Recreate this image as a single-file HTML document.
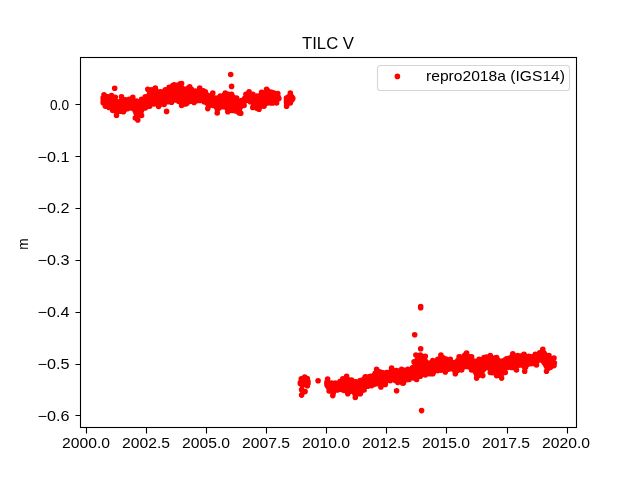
<!DOCTYPE html><html><head><meta charset="utf-8"><style>html,body{margin:0;padding:0;background:#fff;width:640px;height:480px;overflow:hidden}svg{display:block;will-change:transform}</style></head><body><svg width="640" height="480" viewBox="0 0 640 480" font-family='"Liberation Sans", sans-serif'><rect x="80.5" y="57.5" width="496" height="370" fill="none" stroke="#000" stroke-width="1.1"/><path d="M86.5 428V433.5M146.5 428V433.5M206.5 428V433.5M266.5 428V433.5M326.5 428V433.5M386.5 428V433.5M446.5 428V433.5M507.5 428V433.5M567.5 428V433.5M80 104.5H75.5M80 156.5H75.5M80 208.5H75.5M80 260.5H75.5M80 312.5H75.5M80 364.5H75.5M80 415.5H75.5" stroke="#000" stroke-width="1.1" fill="none"/><path d="M103.2 97.8h0M103.2 102.8h0M103.2 98.7h0M103.2 100.4h0M103.2 102.2h0M103.9 98.0h0M103.9 100.3h0M103.9 102.7h0M104.6 97.3h0M104.6 99.2h0M104.6 101.2h0M104.6 103.2h0M105.3 97.6h0M105.3 99.6h0M105.3 101.6h0M105.3 103.7h0M106.0 105.5h0M106.0 97.9h0M106.0 100.0h0M106.0 102.1h0M106.0 104.2h0M106.7 98.3h0M106.7 100.4h0M106.7 102.5h0M106.7 104.6h0M107.4 96.7h0M107.4 98.5h0M107.4 100.6h0M107.4 102.7h0M107.4 104.9h0M108.1 98.5h0M108.1 100.7h0M108.1 102.9h0M108.1 105.1h0M108.8 98.3h0M108.8 100.7h0M108.8 103.0h0M108.8 105.4h0M109.5 98.1h0M109.5 100.6h0M109.5 103.1h0M109.5 105.6h0M110.2 106.5h0M110.2 97.9h0M110.2 99.9h0M110.2 101.9h0M110.2 103.9h0M110.2 105.9h0M110.9 97.6h0M110.9 99.8h0M110.9 102.0h0M110.9 104.1h0M110.9 106.3h0M111.6 96.3h0M111.6 97.6h0M111.6 100.0h0M111.6 102.3h0M111.6 104.6h0M111.6 106.9h0M112.3 98.0h0M112.3 100.4h0M112.3 102.7h0M112.3 105.1h0M112.3 107.5h0M113.0 98.3h0M113.0 100.8h0M113.0 103.2h0M113.0 105.6h0M113.0 108.0h0M113.7 110.0h0M113.7 99.2h0M113.7 101.5h0M113.7 103.9h0M113.7 106.3h0M113.7 108.6h0M114.4 99.4h0M114.4 100.4h0M114.4 102.6h0M114.4 104.8h0M114.4 107.0h0M114.4 109.2h0M115.1 101.6h0M115.1 103.7h0M115.1 105.8h0M115.1 107.8h0M115.1 109.9h0M115.8 102.7h0M115.8 104.7h0M115.8 106.7h0M115.8 108.8h0M115.8 110.8h0M116.5 103.1h0M116.5 105.2h0M116.5 107.4h0M116.5 109.6h0M116.5 111.8h0M117.2 111.7h0M117.2 103.4h0M117.2 105.4h0M117.2 107.4h0M117.2 109.4h0M117.2 111.4h0M117.9 102.5h0M117.9 103.4h0M117.9 105.8h0M117.9 108.2h0M117.9 110.6h0M118.6 103.4h0M118.6 105.6h0M118.6 107.7h0M118.6 109.9h0M119.3 103.0h0M119.3 105.2h0M119.3 107.3h0M119.3 109.5h0M120.0 102.4h0M120.0 104.7h0M120.0 107.0h0M120.0 109.3h0M120.7 101.5h0M120.7 103.5h0M120.7 105.4h0M120.7 107.4h0M120.7 109.3h0M121.4 110.9h0M121.4 100.6h0M121.4 102.8h0M121.4 105.0h0M121.4 107.2h0M121.4 109.5h0M122.1 98.9h0M122.1 99.8h0M122.1 102.3h0M122.1 104.7h0M122.1 107.2h0M122.1 109.6h0M122.8 100.4h0M122.8 102.7h0M122.8 105.1h0M122.8 107.4h0M122.8 109.7h0M123.5 101.0h0M123.5 103.1h0M123.5 105.1h0M123.5 107.2h0M123.5 109.2h0M124.2 110.5h0M124.2 101.4h0M124.2 103.8h0M124.2 106.3h0M124.2 108.7h0M124.9 100.5h0M124.9 101.6h0M124.9 103.8h0M124.9 106.0h0M124.9 108.2h0M125.6 101.6h0M125.6 103.7h0M125.6 105.7h0M125.6 107.7h0M126.3 101.5h0M126.3 103.4h0M126.3 105.3h0M126.3 107.2h0M127.0 101.4h0M127.0 103.2h0M127.0 105.1h0M127.0 106.9h0M127.7 107.6h0M127.7 101.3h0M127.7 103.1h0M127.7 104.9h0M127.7 106.8h0M128.4 101.2h0M128.4 103.0h0M128.4 104.8h0M128.4 106.7h0M129.1 100.0h0M129.1 101.0h0M129.1 102.9h0M129.1 104.7h0M129.1 106.6h0M129.8 100.9h0M129.8 102.7h0M129.8 104.6h0M129.8 106.4h0M130.5 100.6h0M130.5 102.5h0M130.5 104.4h0M130.5 106.3h0M131.2 108.0h0M131.2 100.3h0M131.2 102.3h0M131.2 104.2h0M131.2 106.2h0M131.9 99.2h0M131.9 99.9h0M131.9 102.0h0M131.9 104.1h0M131.9 106.2h0M132.6 100.1h0M132.6 102.2h0M132.6 104.4h0M132.6 106.5h0M133.3 100.8h0M133.3 102.8h0M133.3 104.8h0M133.3 106.9h0M134.0 108.9h0M134.0 101.5h0M134.0 103.6h0M134.0 105.6h0M134.0 107.7h0M134.7 101.6h0M134.7 102.2h0M134.7 104.6h0M134.7 107.0h0M134.7 109.4h0M135.4 102.6h0M135.4 104.8h0M135.4 107.0h0M135.4 109.1h0M135.4 111.3h0M136.1 102.8h0M136.1 105.4h0M136.1 108.0h0M136.1 110.6h0M136.1 113.2h0M136.8 116.4h0M136.8 102.9h0M136.8 105.3h0M136.8 107.7h0M136.8 110.2h0M136.8 112.6h0M136.8 115.0h0M137.5 101.7h0M137.5 102.7h0M137.5 105.1h0M137.5 107.4h0M137.5 109.8h0M137.5 112.2h0M137.5 114.5h0M137.5 116.9h0M138.2 102.5h0M138.2 104.7h0M138.2 107.0h0M138.2 109.3h0M138.2 111.6h0M138.2 113.8h0M138.2 116.1h0M138.9 102.2h0M138.9 104.4h0M138.9 106.6h0M138.9 108.7h0M138.9 110.9h0M138.9 113.1h0M138.9 115.3h0M139.6 101.9h0M139.6 104.4h0M139.6 106.8h0M139.6 109.3h0M139.6 111.7h0M139.6 114.2h0M140.3 101.7h0M140.3 103.9h0M140.3 106.1h0M140.3 108.3h0M140.3 110.5h0M140.3 112.8h0M141.0 112.2h0M141.0 101.4h0M141.0 103.9h0M141.0 106.4h0M141.0 108.9h0M141.0 111.4h0M141.7 99.5h0M141.7 101.1h0M141.7 103.3h0M141.7 105.5h0M141.7 107.8h0M141.7 110.0h0M142.4 100.9h0M142.4 103.4h0M142.4 106.0h0M142.4 108.6h0M143.1 100.5h0M143.1 102.8h0M143.1 105.0h0M143.1 107.3h0M143.8 100.1h0M143.8 102.3h0M143.8 104.5h0M143.8 106.7h0M144.5 99.6h0M144.5 101.8h0M144.5 104.1h0M144.5 106.3h0M145.2 98.1h0M145.2 107.3h0M145.2 99.1h0M145.2 101.4h0M145.2 103.7h0M145.2 106.0h0M145.9 98.7h0M145.9 101.0h0M145.9 103.4h0M145.9 105.7h0M146.6 98.2h0M146.6 100.6h0M146.6 103.0h0M146.6 105.4h0M147.3 97.7h0M147.3 100.1h0M147.3 102.6h0M147.3 105.1h0M148.0 96.9h0M148.0 98.9h0M148.0 100.9h0M148.0 102.8h0M148.0 104.8h0M148.7 106.2h0M148.7 96.1h0M148.7 98.2h0M148.7 100.3h0M148.7 102.4h0M148.7 104.5h0M149.4 94.0h0M149.4 95.4h0M149.4 97.6h0M149.4 99.8h0M149.4 102.0h0M149.4 104.2h0M150.1 94.6h0M150.1 96.9h0M150.1 99.2h0M150.1 101.5h0M150.1 103.8h0M150.8 93.8h0M150.8 96.2h0M150.8 98.7h0M150.8 101.1h0M150.8 103.5h0M151.5 93.1h0M151.5 95.6h0M151.5 98.1h0M151.5 100.6h0M151.5 103.1h0M152.2 91.7h0M152.2 103.1h0M152.2 92.3h0M152.2 94.4h0M152.2 96.5h0M152.2 98.6h0M152.2 100.7h0M152.2 102.8h0M152.9 91.5h0M152.9 93.7h0M152.9 95.9h0M152.9 98.1h0M152.9 100.3h0M152.9 102.5h0M153.6 91.0h0M153.6 93.2h0M153.6 95.5h0M153.6 97.7h0M153.6 100.0h0M153.6 102.3h0M154.3 90.6h0M154.3 92.9h0M154.3 95.3h0M154.3 97.6h0M154.3 99.9h0M154.3 102.2h0M155.0 90.3h0M155.0 92.7h0M155.0 95.1h0M155.0 97.5h0M155.0 100.0h0M155.0 102.4h0M155.7 89.9h0M155.7 103.5h0M155.7 90.8h0M155.7 93.2h0M155.7 95.6h0M155.7 97.9h0M155.7 100.3h0M155.7 102.7h0M156.4 91.3h0M156.4 93.7h0M156.4 96.0h0M156.4 98.4h0M156.4 100.7h0M156.4 103.1h0M157.1 91.8h0M157.1 94.1h0M157.1 96.5h0M157.1 98.8h0M157.1 101.2h0M157.1 103.5h0M157.8 92.3h0M157.8 94.6h0M157.8 97.0h0M157.8 99.3h0M157.8 101.6h0M157.8 103.9h0M158.5 105.4h0M158.5 92.8h0M158.5 95.1h0M158.5 97.4h0M158.5 99.7h0M158.5 102.0h0M158.5 104.3h0M159.2 92.0h0M159.2 93.2h0M159.2 95.5h0M159.2 97.7h0M159.2 99.9h0M159.2 102.1h0M159.2 104.3h0M159.9 93.5h0M159.9 95.6h0M159.9 97.7h0M159.9 99.8h0M159.9 101.9h0M159.9 104.0h0M160.6 93.5h0M160.6 96.0h0M160.6 98.6h0M160.6 101.2h0M160.6 103.8h0M161.3 103.9h0M161.3 93.3h0M161.3 95.9h0M161.3 98.4h0M161.3 101.0h0M161.3 103.5h0M162.0 92.3h0M162.0 93.1h0M162.0 95.6h0M162.0 98.2h0M162.0 100.7h0M162.0 103.3h0M162.7 92.8h0M162.7 95.4h0M162.7 97.9h0M162.7 100.5h0M162.7 103.0h0M163.4 92.5h0M163.4 95.1h0M163.4 97.7h0M163.4 100.2h0M163.4 102.8h0M164.1 103.1h0M164.1 92.3h0M164.1 94.9h0M164.1 97.4h0M164.1 100.0h0M164.1 102.6h0M164.8 92.0h0M164.8 94.6h0M164.8 97.2h0M164.8 99.8h0M164.8 102.4h0M165.5 90.2h0M165.5 91.8h0M165.5 93.8h0M165.5 95.9h0M165.5 98.0h0M165.5 100.1h0M165.5 102.2h0M166.2 91.5h0M166.2 93.6h0M166.2 95.7h0M166.2 97.8h0M166.2 99.9h0M166.2 102.0h0M166.9 91.1h0M166.9 93.3h0M166.9 95.4h0M166.9 97.5h0M166.9 99.6h0M166.9 101.8h0M167.6 90.7h0M167.6 92.9h0M167.6 95.0h0M167.6 97.2h0M167.6 99.4h0M167.6 101.6h0M168.3 101.7h0M168.3 90.2h0M168.3 92.4h0M168.3 94.7h0M168.3 96.9h0M168.3 99.1h0M168.3 101.4h0M169.0 89.7h0M169.0 92.0h0M169.0 94.3h0M169.0 96.6h0M169.0 98.9h0M169.0 101.1h0M169.7 88.3h0M169.7 89.3h0M169.7 91.6h0M169.7 93.9h0M169.7 96.3h0M169.7 98.6h0M169.7 100.9h0M170.4 88.8h0M170.4 91.2h0M170.4 93.6h0M170.4 96.0h0M170.4 98.4h0M170.4 100.7h0M171.1 88.5h0M171.1 90.8h0M171.1 93.2h0M171.1 95.6h0M171.1 97.9h0M171.1 100.3h0M171.8 88.1h0M171.8 90.5h0M171.8 92.8h0M171.8 95.2h0M171.8 97.5h0M171.8 99.9h0M172.5 86.3h0M172.5 100.4h0M172.5 87.8h0M172.5 90.1h0M172.5 92.4h0M172.5 94.8h0M172.5 97.1h0M172.5 99.4h0M173.2 87.4h0M173.2 89.7h0M173.2 92.1h0M173.2 94.4h0M173.2 96.7h0M173.2 99.0h0M173.9 87.1h0M173.9 89.4h0M173.9 91.7h0M173.9 94.0h0M173.9 96.3h0M173.9 98.6h0M174.6 86.7h0M174.6 89.0h0M174.6 91.4h0M174.6 93.7h0M174.6 96.0h0M174.6 98.3h0M175.3 98.7h0M175.3 86.5h0M175.3 88.8h0M175.3 91.2h0M175.3 93.5h0M175.3 95.9h0M175.3 98.2h0M176.0 86.4h0M176.0 88.8h0M176.0 91.2h0M176.0 93.6h0M176.0 96.0h0M176.0 98.4h0M176.7 85.3h0M176.7 86.2h0M176.7 88.7h0M176.7 91.2h0M176.7 93.6h0M176.7 96.1h0M176.7 98.6h0M177.4 86.1h0M177.4 88.7h0M177.4 91.3h0M177.4 93.9h0M177.4 96.5h0M177.4 99.1h0M178.1 86.0h0M178.1 88.3h0M178.1 90.6h0M178.1 92.9h0M178.1 95.2h0M178.1 97.4h0M178.1 99.7h0M178.8 101.5h0M178.8 85.9h0M178.8 88.3h0M178.8 90.7h0M178.8 93.1h0M178.8 95.5h0M178.8 97.9h0M178.8 100.4h0M179.5 85.8h0M179.5 88.3h0M179.5 90.8h0M179.5 93.4h0M179.5 95.9h0M179.5 98.4h0M179.5 101.0h0M180.2 83.9h0M180.2 85.7h0M180.2 87.9h0M180.2 90.2h0M180.2 92.5h0M180.2 94.8h0M180.2 97.0h0M180.2 99.3h0M180.2 101.6h0M180.9 86.7h0M180.9 89.2h0M180.9 91.8h0M180.9 94.4h0M180.9 97.0h0M180.9 99.6h0M180.9 102.2h0M181.6 103.9h0M181.6 87.7h0M181.6 90.2h0M181.6 92.7h0M181.6 95.3h0M181.6 97.8h0M181.6 100.3h0M181.6 102.8h0M182.3 88.7h0M182.3 91.2h0M182.3 93.6h0M182.3 96.0h0M182.3 98.4h0M182.3 100.8h0M182.3 103.2h0M183.0 89.8h0M183.0 92.0h0M183.0 94.2h0M183.0 96.4h0M183.0 98.6h0M183.0 100.8h0M183.0 103.0h0M183.7 90.5h0M183.7 92.9h0M183.7 95.4h0M183.7 97.8h0M183.7 100.2h0M183.7 102.7h0M184.4 89.4h0M184.4 90.8h0M184.4 93.1h0M184.4 95.4h0M184.4 97.8h0M184.4 100.1h0M184.4 102.4h0M185.1 103.9h0M185.1 91.0h0M185.1 93.2h0M185.1 95.5h0M185.1 97.7h0M185.1 99.9h0M185.1 102.2h0M185.8 90.9h0M185.8 93.1h0M185.8 95.3h0M185.8 97.5h0M185.8 99.7h0M185.8 101.9h0M186.5 90.7h0M186.5 92.9h0M186.5 95.1h0M186.5 97.4h0M186.5 99.6h0M186.5 101.8h0M187.2 90.3h0M187.2 92.6h0M187.2 94.9h0M187.2 97.1h0M187.2 99.4h0M187.2 101.7h0M187.9 89.9h0M187.9 92.3h0M187.9 94.6h0M187.9 96.9h0M187.9 99.2h0M187.9 101.5h0M188.6 87.8h0M188.6 101.8h0M188.6 89.5h0M188.6 91.9h0M188.6 94.3h0M188.6 96.7h0M188.6 99.1h0M188.6 101.4h0M189.3 89.1h0M189.3 91.6h0M189.3 94.0h0M189.3 96.5h0M189.3 98.9h0M189.3 101.3h0M190.0 89.5h0M190.0 91.8h0M190.0 94.2h0M190.0 96.5h0M190.0 98.9h0M190.0 101.2h0M190.7 90.0h0M190.7 92.3h0M190.7 94.5h0M190.7 96.7h0M190.7 98.9h0M190.7 101.1h0M191.4 89.4h0M191.4 90.6h0M191.4 93.2h0M191.4 95.8h0M191.4 98.4h0M191.4 101.0h0M192.1 91.1h0M192.1 93.6h0M192.1 96.0h0M192.1 98.4h0M192.1 100.9h0M192.8 101.3h0M192.8 91.7h0M192.8 94.0h0M192.8 96.2h0M192.8 98.5h0M192.8 100.8h0M193.5 92.2h0M193.5 94.3h0M193.5 96.4h0M193.5 98.5h0M193.5 100.6h0M194.2 92.6h0M194.2 95.2h0M194.2 97.8h0M194.2 100.3h0M194.9 92.0h0M194.9 92.9h0M194.9 95.3h0M194.9 97.7h0M194.9 100.1h0M195.6 92.8h0M195.6 95.2h0M195.6 97.5h0M195.6 99.8h0M196.3 100.8h0M196.3 92.7h0M196.3 95.0h0M196.3 97.3h0M196.3 99.5h0M197.0 92.3h0M197.0 94.6h0M197.0 97.0h0M197.0 99.3h0M197.7 91.8h0M197.7 94.2h0M197.7 96.6h0M197.7 99.0h0M198.4 91.3h0M198.4 93.8h0M198.4 96.3h0M198.4 98.8h0M199.1 90.2h0M199.1 90.8h0M199.1 92.8h0M199.1 94.8h0M199.1 96.7h0M199.1 98.7h0M199.8 100.4h0M199.8 90.4h0M199.8 92.5h0M199.8 94.6h0M199.8 96.7h0M199.8 98.8h0M200.5 90.9h0M200.5 92.9h0M200.5 94.9h0M200.5 97.0h0M200.5 99.0h0M201.2 91.3h0M201.2 93.3h0M201.2 95.2h0M201.2 97.2h0M201.2 99.2h0M201.9 91.8h0M201.9 94.3h0M201.9 96.8h0M201.9 99.3h0M202.6 92.3h0M202.6 94.7h0M202.6 97.1h0M202.6 99.5h0M203.3 90.9h0M203.3 92.7h0M203.3 95.0h0M203.3 97.4h0M203.3 99.7h0M204.0 100.4h0M204.0 93.4h0M204.0 95.5h0M204.0 97.7h0M204.0 99.9h0M204.7 94.1h0M204.7 96.0h0M204.7 98.0h0M204.7 100.0h0M205.4 94.8h0M205.4 96.6h0M205.4 98.5h0M205.4 100.3h0M206.1 95.5h0M206.1 97.3h0M206.1 99.1h0M206.1 100.9h0M206.8 103.1h0M206.8 96.2h0M206.8 98.1h0M206.8 100.0h0M206.8 101.9h0M207.5 95.1h0M207.5 96.9h0M207.5 99.0h0M207.5 101.1h0M207.5 103.2h0M208.2 97.4h0M208.2 99.8h0M208.2 102.1h0M208.2 104.5h0M208.9 97.8h0M208.9 99.7h0M208.9 101.7h0M208.9 103.7h0M208.9 105.6h0M209.6 97.8h0M209.6 100.3h0M209.6 102.7h0M209.6 105.2h0M210.3 97.8h0M210.3 100.1h0M210.3 102.4h0M210.3 104.8h0M211.0 96.9h0M211.0 105.0h0M211.0 97.5h0M211.0 99.8h0M211.0 102.1h0M211.0 104.3h0M211.7 97.1h0M211.7 99.4h0M211.7 101.7h0M211.7 103.9h0M212.4 97.4h0M212.4 99.5h0M212.4 101.6h0M212.4 103.7h0M213.1 98.7h0M213.1 101.3h0M213.1 103.8h0M213.8 105.4h0M213.8 99.3h0M213.8 101.6h0M213.8 103.9h0M214.5 98.2h0M214.5 99.7h0M214.5 102.0h0M214.5 104.4h0M215.2 99.8h0M215.2 101.5h0M215.2 103.3h0M215.2 105.1h0M215.9 99.7h0M215.9 101.9h0M215.9 104.1h0M215.9 106.3h0M216.6 99.5h0M216.6 101.5h0M216.6 103.5h0M216.6 105.5h0M216.6 107.4h0M217.3 109.0h0M217.3 99.2h0M217.3 101.6h0M217.3 103.9h0M217.3 106.3h0M217.3 108.6h0M218.0 97.7h0M218.0 99.0h0M218.0 101.5h0M218.0 103.9h0M218.0 106.4h0M218.0 108.9h0M218.7 98.7h0M218.7 101.1h0M218.7 103.4h0M218.7 105.8h0M218.7 108.1h0M219.4 98.4h0M219.4 100.7h0M219.4 102.9h0M219.4 105.1h0M219.4 107.4h0M220.1 98.2h0M220.1 100.3h0M220.1 102.4h0M220.1 104.5h0M220.1 106.6h0M220.8 97.5h0M220.8 106.1h0M220.8 97.9h0M220.8 99.9h0M220.8 101.8h0M220.8 103.8h0M220.8 105.8h0M221.5 97.6h0M221.5 100.2h0M221.5 102.8h0M221.5 105.3h0M222.2 97.2h0M222.2 99.2h0M222.2 101.1h0M222.2 103.1h0M222.2 105.0h0M222.9 96.8h0M222.9 98.8h0M222.9 100.9h0M222.9 103.0h0M222.9 105.0h0M223.6 96.3h0M223.6 98.5h0M223.6 100.7h0M223.6 102.9h0M223.6 105.1h0M224.3 94.9h0M224.3 106.1h0M224.3 95.9h0M224.3 98.3h0M224.3 100.7h0M224.3 103.0h0M224.3 105.4h0M225.0 95.5h0M225.0 97.6h0M225.0 99.7h0M225.0 101.8h0M225.0 103.9h0M225.0 106.0h0M225.7 95.0h0M225.7 97.4h0M225.7 99.7h0M225.7 102.0h0M225.7 104.4h0M225.7 106.7h0M226.4 95.1h0M226.4 97.5h0M226.4 100.0h0M226.4 102.5h0M226.4 104.9h0M226.4 107.4h0M227.1 95.2h0M227.1 97.8h0M227.1 100.4h0M227.1 102.9h0M227.1 105.5h0M227.1 108.1h0M227.8 110.0h0M227.8 95.3h0M227.8 97.6h0M227.8 99.8h0M227.8 102.1h0M227.8 104.3h0M227.8 106.5h0M227.8 108.8h0M228.5 94.3h0M228.5 95.5h0M228.5 97.8h0M228.5 100.1h0M228.5 102.5h0M228.5 104.8h0M228.5 107.2h0M228.5 109.5h0M229.2 95.6h0M229.2 97.9h0M229.2 100.2h0M229.2 102.6h0M229.2 104.9h0M229.2 107.2h0M229.2 109.5h0M229.9 95.7h0M229.9 98.0h0M229.9 100.3h0M229.9 102.5h0M229.9 104.8h0M229.9 107.1h0M229.9 109.3h0M230.6 96.0h0M230.6 98.2h0M230.6 100.4h0M230.6 102.6h0M230.6 104.8h0M230.6 107.0h0M230.6 109.2h0M231.3 96.5h0M231.3 99.0h0M231.3 101.5h0M231.3 104.0h0M231.3 106.5h0M231.3 109.0h0M232.0 110.5h0M232.0 97.1h0M232.0 99.4h0M232.0 101.8h0M232.0 104.1h0M232.0 106.5h0M232.0 108.8h0M232.7 96.6h0M232.7 97.6h0M232.7 99.8h0M232.7 102.0h0M232.7 104.3h0M232.7 106.5h0M232.7 108.7h0M233.4 98.1h0M233.4 100.2h0M233.4 102.4h0M233.4 104.5h0M233.4 106.6h0M233.4 108.8h0M234.1 98.7h0M234.1 101.2h0M234.1 103.8h0M234.1 106.4h0M234.1 109.0h0M234.8 99.2h0M234.8 101.7h0M234.8 104.2h0M234.8 106.8h0M234.8 109.3h0M235.5 111.0h0M235.5 99.6h0M235.5 102.1h0M235.5 104.6h0M235.5 107.1h0M235.5 109.6h0M236.2 100.0h0M236.2 102.4h0M236.2 104.9h0M236.2 107.4h0M236.2 109.8h0M236.9 99.5h0M236.9 100.3h0M236.9 102.8h0M236.9 105.2h0M236.9 107.7h0M236.9 110.1h0M237.6 100.7h0M237.6 103.1h0M237.6 105.5h0M237.6 108.0h0M237.6 110.4h0M238.3 101.0h0M238.3 103.3h0M238.3 105.5h0M238.3 107.8h0M238.3 110.1h0M239.0 101.4h0M239.0 103.9h0M239.0 106.5h0M239.0 109.0h0M239.7 108.8h0M239.7 101.7h0M239.7 103.8h0M239.7 105.9h0M239.7 108.0h0M240.4 102.0h0M240.4 104.5h0M240.4 106.9h0M241.1 100.9h0M241.1 102.2h0M241.1 104.1h0M241.1 105.9h0M241.8 102.2h0M241.8 104.2h0M242.5 102.1h0M242.5 102.1h0M243.2 101.7h0M243.2 101.7h0M243.9 101.2h0M243.9 101.0h0M243.9 101.0h0M244.6 98.5h0M244.6 100.0h0M244.6 100.0h0M245.3 99.0h0M245.3 99.3h0M246.0 98.0h0M246.0 99.4h0M246.7 100.0h0M246.7 97.0h0M246.7 99.5h0M247.4 95.9h0M247.4 97.7h0M247.4 99.5h0M248.1 95.0h0M248.1 97.3h0M248.1 99.6h0M248.8 93.6h0M248.8 94.5h0M248.8 96.2h0M248.8 98.0h0M248.8 99.7h0M249.5 100.7h0M249.5 94.4h0M249.5 96.2h0M249.5 98.0h0M249.5 99.8h0M250.2 94.8h0M250.2 97.4h0M250.2 99.9h0M250.9 95.3h0M250.9 97.7h0M250.9 100.0h0M251.6 95.7h0M251.6 98.0h0M251.6 100.3h0M252.3 94.7h0M252.3 96.1h0M252.3 98.4h0M252.3 100.8h0M253.0 96.4h0M253.0 98.3h0M253.0 100.1h0M253.0 101.9h0M253.7 104.6h0M253.7 96.8h0M253.7 99.0h0M253.7 101.3h0M253.7 103.5h0M254.4 97.1h0M254.4 99.1h0M254.4 101.1h0M254.4 103.1h0M254.4 105.1h0M255.1 97.5h0M255.1 99.7h0M255.1 101.8h0M255.1 104.0h0M255.1 106.2h0M255.8 97.8h0M255.8 99.9h0M255.8 102.1h0M255.8 104.2h0M255.8 106.4h0M256.5 97.0h0M256.5 97.9h0M256.5 100.0h0M256.5 102.2h0M256.5 104.4h0M256.5 106.6h0M257.2 108.5h0M257.2 97.8h0M257.2 100.0h0M257.2 102.3h0M257.2 104.5h0M257.2 106.8h0M257.9 97.5h0M257.9 99.9h0M257.9 102.3h0M257.9 104.6h0M257.9 107.0h0M258.6 97.1h0M258.6 99.6h0M258.6 102.1h0M258.6 104.7h0M258.6 107.2h0M259.3 95.9h0M259.3 96.5h0M259.3 99.1h0M259.3 101.7h0M259.3 104.2h0M259.3 106.8h0M260.0 96.0h0M260.0 98.6h0M260.0 101.2h0M260.0 103.8h0M260.0 106.3h0M260.7 106.6h0M260.7 95.5h0M260.7 97.6h0M260.7 99.7h0M260.7 101.7h0M260.7 103.8h0M260.7 105.9h0M261.4 95.0h0M261.4 97.1h0M261.4 99.2h0M261.4 101.3h0M261.4 103.4h0M261.4 105.5h0M262.1 94.4h0M262.1 96.6h0M262.1 98.7h0M262.1 100.8h0M262.1 102.9h0M262.1 105.0h0M262.8 93.9h0M262.8 96.0h0M262.8 98.2h0M262.8 100.3h0M262.8 102.5h0M262.8 104.6h0M263.5 93.0h0M263.5 104.7h0M263.5 93.4h0M263.5 95.6h0M263.5 97.8h0M263.5 99.9h0M263.5 102.1h0M263.5 104.2h0M264.2 93.0h0M264.2 95.2h0M264.2 97.4h0M264.2 99.5h0M264.2 101.7h0M264.2 103.9h0M264.9 92.5h0M264.9 94.7h0M264.9 96.9h0M264.9 99.2h0M264.9 101.4h0M264.9 103.6h0M265.6 92.1h0M265.6 94.3h0M265.6 96.5h0M265.6 98.8h0M265.6 101.0h0M265.6 103.2h0M266.3 91.7h0M266.3 93.9h0M266.3 96.1h0M266.3 98.4h0M266.3 100.6h0M266.3 102.9h0M267.0 102.9h0M267.0 91.8h0M267.0 93.9h0M267.0 96.1h0M267.0 98.2h0M267.0 100.4h0M267.0 102.5h0M267.7 90.5h0M267.7 92.2h0M267.7 94.7h0M267.7 97.2h0M267.7 99.7h0M267.7 102.2h0M268.4 92.7h0M268.4 95.0h0M268.4 97.2h0M268.4 99.5h0M268.4 101.8h0M269.1 93.1h0M269.1 95.2h0M269.1 97.3h0M269.1 99.4h0M269.1 101.5h0M269.8 102.7h0M269.8 93.6h0M269.8 96.1h0M269.8 98.7h0M269.8 101.3h0M270.5 92.4h0M270.5 93.9h0M270.5 96.4h0M270.5 98.8h0M270.5 101.2h0M271.2 94.1h0M271.2 96.5h0M271.2 98.8h0M271.2 101.2h0M271.9 94.3h0M271.9 96.6h0M271.9 98.9h0M271.9 101.2h0M272.6 102.9h0M272.6 94.4h0M272.6 96.7h0M272.6 98.9h0M272.6 101.2h0M273.3 94.6h0M273.3 96.8h0M273.3 99.0h0M273.3 101.2h0M274.0 93.1h0M274.0 94.7h0M274.0 96.9h0M274.0 99.0h0M274.0 101.2h0M274.7 94.8h0M274.7 97.0h0M274.7 99.1h0M274.7 101.2h0M275.4 95.0h0M275.4 97.0h0M275.4 99.0h0M275.4 101.0h0M276.1 102.0h0M276.1 95.1h0M276.1 97.7h0M276.1 100.2h0M276.8 95.8h0M276.8 97.6h0M276.8 99.4h0M277.5 96.6h0M277.5 98.6h0M278.2 97.1h0M278.2 97.5h0M278.2 97.7h0M278.9 98.6h0M278.9 98.6h0M104.0 94.8h0M107.8 96.7h0M111.5 95.5h0M115.3 97.3h0M117.8 101.7h0M121.5 96.7h0M125.3 99.8h0M129.1 99.2h0M132.8 97.3h0M136.6 101.1h0M141.6 99.2h0M145.3 96.7h0M151.6 89.8h0M155.3 88.0h0M160.3 91.7h0M165.3 89.8h0M169.1 87.3h0M172.8 85.5h0M174.1 84.8h0M181.6 83.6h0M185.3 89.2h0M189.7 86.7h0M195.3 91.1h0M199.7 88.0h0M205.3 91.7h0M209.7 96.1h0M212.8 93.0h0M215.3 98.0h0M220.3 96.1h0M225.3 93.0h0M231.6 94.2h0M236.6 98.0h0M241.6 100.5h0M245.9 94.2h0M249.1 91.7h0M252.8 94.2h0M256.6 96.1h0M261.6 92.3h0M266.6 89.2h0M271.6 92.3h0M277.8 93.6h0M105.3 106.1h0M109.0 107.4h0M112.8 110.5h0M116.5 115.5h0M120.3 111.1h0M123.4 111.8h0M127.8 108.6h0M131.6 108.0h0M135.3 118.0h0M137.8 119.9h0M141.6 115.5h0M145.3 108.0h0M149.8 106.1h0M154.1 104.0h0M158.6 106.5h0M164.1 104.5h0M171.6 102.3h0M175.3 100.0h0M181.6 105.5h0M186.6 103.6h0M194.1 102.4h0M199.1 100.5h0M204.1 101.8h0M207.8 108.6h0M212.8 105.5h0M217.2 113.0h0M222.8 106.8h0M227.8 111.8h0M232.8 110.5h0M239.1 113.0h0M244.1 105.5h0M245.3 101.1h0M250.3 101.8h0M252.8 107.4h0M259.1 109.2h0M264.1 106.1h0M270.3 103.0h0M276.6 103.0h0M286.5 98.1h0M286.5 102.5h0M286.5 98.7h0M286.5 100.1h0M286.5 101.6h0M287.2 97.8h0M287.2 100.0h0M287.2 102.2h0M287.9 97.3h0M287.9 99.6h0M287.9 101.9h0M288.6 96.7h0M288.6 99.2h0M288.6 101.7h0M289.3 102.2h0M289.3 96.2h0M289.3 98.8h0M289.3 101.3h0M290.0 95.7h0M290.0 98.2h0M290.0 100.8h0M290.7 95.4h0M290.7 96.0h0M290.7 98.1h0M290.7 100.3h0M291.4 96.5h0M291.4 98.2h0M291.4 99.8h0M292.1 99.8h0M292.1 97.3h0M292.1 99.3h0M292.8 98.4h0M292.8 98.5h0M290.3 93.0h0M286.6 104.5h0M290.3 103.0h0M300.3 382.8h0M300.3 383.5h0M300.3 383.6h0M300.3 383.6h0M301.0 381.9h0M301.0 382.7h0M301.7 381.3h0M301.7 383.1h0M302.4 380.7h0M302.4 382.0h0M302.4 383.4h0M303.1 380.1h0M303.1 381.9h0M303.1 383.7h0M303.8 379.1h0M303.8 384.3h0M303.8 379.7h0M303.8 381.7h0M303.8 383.8h0M304.5 379.3h0M304.5 381.6h0M304.5 383.8h0M305.2 379.6h0M305.2 381.7h0M305.2 383.9h0M305.9 380.0h0M305.9 382.0h0M305.9 383.9h0M306.6 380.5h0M306.6 382.2h0M306.6 384.0h0M307.3 379.4h0M307.3 381.0h0M307.3 383.5h0M308.0 383.5h0M308.0 381.5h0M308.0 383.1h0M301.3 378.9h0M304.7 377.0h0M307.3 378.6h0M302.3 385.5h0M307.3 385.8h0M326.9 382.4h0M326.9 384.8h0M326.9 383.4h0M326.9 384.0h0M327.6 382.0h0M327.6 384.0h0M327.6 386.1h0M328.3 382.8h0M328.3 384.9h0M328.3 387.1h0M329.0 383.5h0M329.0 385.7h0M329.0 387.9h0M329.7 389.4h0M329.7 384.2h0M329.7 386.4h0M329.7 388.6h0M330.4 384.1h0M330.4 384.6h0M330.4 387.0h0M330.4 389.3h0M331.1 384.8h0M331.1 386.6h0M331.1 388.3h0M331.1 390.1h0M331.8 384.9h0M331.8 386.9h0M331.8 388.9h0M331.8 390.9h0M332.5 384.9h0M332.5 387.2h0M332.5 389.5h0M332.5 391.8h0M333.2 393.3h0M333.2 384.9h0M333.2 387.3h0M333.2 389.6h0M333.2 392.0h0M333.9 384.9h0M333.9 387.0h0M333.9 389.1h0M333.9 391.2h0M334.6 384.4h0M334.6 384.9h0M334.6 386.7h0M334.6 388.6h0M334.6 390.4h0M335.3 384.9h0M335.3 387.3h0M335.3 389.6h0M336.0 384.8h0M336.0 386.8h0M336.0 388.9h0M336.7 384.6h0M336.7 386.5h0M336.7 388.5h0M337.4 389.8h0M337.4 384.3h0M337.4 386.3h0M337.4 388.2h0M338.1 384.0h0M338.1 386.1h0M338.1 388.2h0M338.8 382.9h0M338.8 383.8h0M338.8 386.0h0M338.8 388.2h0M339.5 383.5h0M339.5 385.8h0M339.5 388.2h0M340.2 389.2h0M340.2 383.2h0M340.2 385.7h0M340.2 388.2h0M340.9 383.0h0M340.9 384.7h0M340.9 386.5h0M340.9 388.2h0M341.6 381.4h0M341.6 382.7h0M341.6 384.5h0M341.6 386.4h0M341.6 388.2h0M342.3 382.2h0M342.3 384.2h0M342.3 386.2h0M342.3 388.2h0M343.0 381.5h0M343.0 383.7h0M343.0 386.0h0M343.0 388.2h0M343.7 380.8h0M343.7 383.3h0M343.7 385.8h0M343.7 388.4h0M344.4 378.9h0M344.4 390.4h0M344.4 380.1h0M344.4 382.2h0M344.4 384.4h0M344.4 386.5h0M344.4 388.7h0M345.1 379.5h0M345.1 382.0h0M345.1 384.4h0M345.1 386.8h0M345.1 389.2h0M345.8 379.1h0M345.8 381.2h0M345.8 383.3h0M345.8 385.5h0M345.8 387.6h0M345.8 389.8h0M346.5 378.7h0M346.5 381.0h0M346.5 383.3h0M346.5 385.6h0M346.5 388.0h0M346.5 390.3h0M347.2 379.2h0M347.2 381.5h0M347.2 383.8h0M347.2 386.2h0M347.2 388.5h0M347.2 390.8h0M347.9 392.9h0M347.9 379.7h0M347.9 382.1h0M347.9 384.4h0M347.9 386.7h0M347.9 389.0h0M347.9 391.3h0M348.6 379.7h0M348.6 380.3h0M348.6 382.4h0M348.6 384.5h0M348.6 386.6h0M348.6 388.7h0M348.6 390.9h0M349.3 380.8h0M349.3 383.2h0M349.3 385.6h0M349.3 388.0h0M349.3 390.4h0M350.0 381.3h0M350.0 383.5h0M350.0 385.6h0M350.0 387.8h0M350.0 389.9h0M350.7 381.7h0M350.7 383.7h0M350.7 385.7h0M350.7 387.6h0M350.7 389.6h0M351.4 382.0h0M351.4 384.5h0M351.4 387.0h0M351.4 389.5h0M352.1 381.2h0M352.1 391.0h0M352.1 382.4h0M352.1 384.8h0M352.1 387.2h0M352.1 389.5h0M352.8 382.7h0M352.8 385.1h0M352.8 387.4h0M352.8 389.8h0M353.5 383.1h0M353.5 385.5h0M353.5 387.9h0M353.5 390.3h0M354.2 383.4h0M354.2 385.4h0M354.2 387.3h0M354.2 389.3h0M354.2 391.2h0M354.9 393.7h0M354.9 383.6h0M354.9 385.8h0M354.9 388.0h0M354.9 390.2h0M354.9 392.4h0M355.6 381.9h0M355.6 383.6h0M355.6 386.1h0M355.6 388.6h0M355.6 391.1h0M355.6 393.6h0M356.3 383.5h0M356.3 385.6h0M356.3 387.8h0M356.3 389.9h0M356.3 392.1h0M356.3 394.3h0M357.0 383.3h0M357.0 385.4h0M357.0 387.5h0M357.0 389.6h0M357.0 391.6h0M357.0 393.7h0M357.7 383.1h0M357.7 385.7h0M357.7 388.2h0M357.7 390.7h0M357.7 393.2h0M358.4 393.6h0M358.4 383.0h0M358.4 385.4h0M358.4 387.8h0M358.4 390.2h0M358.4 392.7h0M359.1 382.8h0M359.1 385.1h0M359.1 387.4h0M359.1 389.7h0M359.1 392.0h0M359.8 380.9h0M359.8 382.6h0M359.8 384.8h0M359.8 387.0h0M359.8 389.1h0M359.8 391.3h0M360.5 382.4h0M360.5 384.5h0M360.5 386.5h0M360.5 388.6h0M360.5 390.6h0M361.2 391.5h0M361.2 382.2h0M361.2 384.8h0M361.2 387.3h0M361.2 389.9h0M361.9 381.9h0M361.9 384.3h0M361.9 386.8h0M361.9 389.2h0M362.6 381.4h0M362.6 383.7h0M362.6 386.1h0M362.6 388.5h0M363.3 380.8h0M363.3 383.2h0M363.3 385.5h0M363.3 387.8h0M364.0 378.7h0M364.0 387.5h0M364.0 380.3h0M364.0 382.6h0M364.0 384.8h0M364.0 387.1h0M364.7 379.8h0M364.7 382.0h0M364.7 384.2h0M364.7 386.4h0M365.4 379.3h0M365.4 381.4h0M365.4 383.6h0M365.4 385.7h0M366.1 378.7h0M366.1 380.8h0M366.1 383.0h0M366.1 385.1h0M366.8 377.1h0M366.8 385.5h0M366.8 378.5h0M366.8 380.5h0M366.8 382.6h0M366.8 384.6h0M367.5 378.4h0M367.5 380.4h0M367.5 382.4h0M367.5 384.5h0M368.2 378.3h0M368.2 380.3h0M368.2 382.3h0M368.2 384.3h0M368.9 378.2h0M368.9 380.2h0M368.9 382.2h0M368.9 384.2h0M369.6 385.2h0M369.6 378.1h0M369.6 380.1h0M369.6 382.1h0M369.6 384.1h0M370.3 378.0h0M370.3 380.0h0M370.3 382.0h0M370.3 384.0h0M371.0 376.7h0M371.0 377.9h0M371.0 379.9h0M371.0 381.8h0M371.0 383.8h0M371.7 377.6h0M371.7 379.6h0M371.7 381.6h0M371.7 383.6h0M372.4 377.0h0M372.4 379.1h0M372.4 381.2h0M372.4 383.3h0M373.1 376.3h0M373.1 378.5h0M373.1 380.8h0M373.1 383.0h0M373.8 384.4h0M373.8 375.5h0M373.8 377.9h0M373.8 380.4h0M373.8 382.8h0M374.5 374.7h0M374.5 377.3h0M374.5 379.9h0M374.5 382.5h0M375.2 373.3h0M375.2 374.0h0M375.2 376.1h0M375.2 378.1h0M375.2 380.2h0M375.2 382.3h0M375.9 373.2h0M375.9 375.4h0M375.9 377.6h0M375.9 379.8h0M375.9 382.0h0M376.6 372.4h0M376.6 374.8h0M376.6 377.2h0M376.6 379.6h0M376.6 382.0h0M377.3 372.1h0M377.3 374.6h0M377.3 377.1h0M377.3 379.6h0M377.3 382.1h0M378.0 383.2h0M378.0 372.6h0M378.0 375.0h0M378.0 377.5h0M378.0 379.9h0M378.0 382.4h0M378.7 373.0h0M378.7 375.5h0M378.7 377.9h0M378.7 380.4h0M378.7 382.9h0M379.4 371.7h0M379.4 373.5h0M379.4 375.9h0M379.4 378.4h0M379.4 380.9h0M379.4 383.4h0M380.1 373.9h0M380.1 376.4h0M380.1 378.9h0M380.1 381.4h0M380.1 383.9h0M380.8 374.2h0M380.8 376.7h0M380.8 379.3h0M380.8 381.8h0M380.8 384.4h0M381.5 385.0h0M381.5 374.3h0M381.5 376.8h0M381.5 379.3h0M381.5 381.8h0M381.5 384.3h0M382.2 374.3h0M382.2 376.7h0M382.2 379.1h0M382.2 381.5h0M382.2 383.9h0M382.9 372.9h0M382.9 374.3h0M382.9 376.6h0M382.9 378.9h0M382.9 381.2h0M382.9 383.5h0M383.6 374.3h0M383.6 376.5h0M383.6 378.7h0M383.6 380.9h0M383.6 383.1h0M384.3 383.3h0M384.3 374.3h0M384.3 376.4h0M384.3 378.5h0M384.3 380.6h0M384.3 382.6h0M385.0 374.3h0M385.0 376.3h0M385.0 378.2h0M385.0 380.2h0M385.0 382.1h0M385.7 374.3h0M385.7 376.7h0M385.7 379.2h0M385.7 381.6h0M386.4 372.7h0M386.4 374.3h0M386.4 376.6h0M386.4 378.8h0M386.4 381.1h0M387.1 374.2h0M387.1 376.3h0M387.1 378.4h0M387.1 380.5h0M387.8 374.0h0M387.8 376.0h0M387.8 378.0h0M387.8 380.0h0M388.5 380.1h0M388.5 373.5h0M388.5 375.5h0M388.5 377.5h0M388.5 379.5h0M389.2 372.2h0M389.2 372.9h0M389.2 375.0h0M389.2 377.0h0M389.2 379.1h0M389.9 372.3h0M389.9 374.5h0M389.9 376.6h0M389.9 378.8h0M390.6 371.7h0M390.6 374.1h0M390.6 376.4h0M390.6 378.8h0M391.3 371.0h0M391.3 373.0h0M391.3 375.0h0M391.3 377.0h0M391.3 379.0h0M392.0 379.5h0M392.0 370.5h0M392.0 372.6h0M392.0 374.8h0M392.0 377.0h0M392.0 379.1h0M392.7 370.8h0M392.7 372.9h0M392.7 375.1h0M392.7 377.2h0M392.7 379.3h0M393.4 370.5h0M393.4 371.2h0M393.4 373.2h0M393.4 375.3h0M393.4 377.4h0M393.4 379.5h0M394.1 371.5h0M394.1 373.5h0M394.1 375.6h0M394.1 377.6h0M394.1 379.7h0M394.8 371.9h0M394.8 373.9h0M394.8 375.9h0M394.8 377.9h0M394.8 379.9h0M395.5 372.2h0M395.5 374.2h0M395.5 376.1h0M395.5 378.1h0M395.5 380.0h0M396.2 381.0h0M396.2 372.4h0M396.2 374.3h0M396.2 376.3h0M396.2 378.2h0M396.2 380.2h0M396.9 371.7h0M396.9 372.4h0M396.9 374.4h0M396.9 376.4h0M396.9 378.4h0M396.9 380.4h0M397.6 372.2h0M397.6 374.3h0M397.6 376.4h0M397.6 378.5h0M397.6 380.6h0M398.3 372.0h0M398.3 374.2h0M398.3 376.4h0M398.3 378.6h0M398.3 380.7h0M399.0 381.5h0M399.0 371.9h0M399.0 374.1h0M399.0 376.3h0M399.0 378.6h0M399.0 380.8h0M399.7 371.7h0M399.7 374.0h0M399.7 376.3h0M399.7 378.6h0M399.7 380.9h0M400.4 371.5h0M400.4 373.9h0M400.4 376.2h0M400.4 378.6h0M400.4 381.0h0M401.1 370.1h0M401.1 371.3h0M401.1 373.8h0M401.1 376.2h0M401.1 378.6h0M401.1 381.0h0M401.8 371.2h0M401.8 373.7h0M401.8 376.1h0M401.8 378.6h0M401.8 381.1h0M402.5 382.9h0M402.5 371.2h0M402.5 373.7h0M402.5 376.2h0M402.5 378.7h0M402.5 381.2h0M403.2 371.2h0M403.2 373.6h0M403.2 376.0h0M403.2 378.5h0M403.2 380.9h0M403.9 371.2h0M403.9 373.5h0M403.9 375.8h0M403.9 378.1h0M403.9 380.4h0M404.6 370.2h0M404.6 371.2h0M404.6 373.4h0M404.6 375.6h0M404.6 377.8h0M404.6 380.0h0M405.3 371.2h0M405.3 373.2h0M405.3 375.3h0M405.3 377.4h0M405.3 379.5h0M406.0 371.2h0M406.0 373.1h0M406.0 375.1h0M406.0 377.1h0M406.0 379.1h0M406.7 379.6h0M406.7 371.2h0M406.7 373.6h0M406.7 376.1h0M406.7 378.6h0M407.4 371.2h0M407.4 373.5h0M407.4 375.8h0M407.4 378.1h0M408.1 369.9h0M408.1 371.1h0M408.1 373.3h0M408.1 375.6h0M408.1 377.8h0M408.8 371.0h0M408.8 373.2h0M408.8 375.4h0M408.8 377.6h0M409.5 370.7h0M409.5 373.0h0M409.5 375.3h0M409.5 377.6h0M410.2 370.4h0M410.2 372.8h0M410.2 375.2h0M410.2 377.6h0M410.9 378.0h0M410.9 370.2h0M410.9 372.7h0M410.9 375.1h0M410.9 377.6h0M411.6 369.9h0M411.6 372.5h0M411.6 375.0h0M411.6 377.6h0M412.3 368.1h0M412.3 369.7h0M412.3 371.7h0M412.3 373.6h0M412.3 375.6h0M412.3 377.6h0M413.0 369.4h0M413.0 371.5h0M413.0 373.5h0M413.0 375.6h0M413.0 377.6h0M413.7 369.2h0M413.7 371.3h0M413.7 373.4h0M413.7 375.5h0M413.7 377.6h0M414.4 377.9h0M414.4 368.8h0M414.4 371.0h0M414.4 373.2h0M414.4 375.4h0M414.4 377.6h0M415.1 368.0h0M415.1 370.4h0M415.1 372.8h0M415.1 375.2h0M415.1 377.6h0M415.8 365.7h0M415.8 368.1h0M415.8 370.4h0M415.8 372.7h0M415.8 375.0h0M415.8 377.4h0M416.5 361.8h0M416.5 362.6h0M416.5 364.9h0M416.5 367.3h0M416.5 369.7h0M416.5 372.0h0M416.5 374.4h0M416.5 376.8h0M417.2 376.6h0M417.2 359.9h0M417.2 362.2h0M417.2 364.5h0M417.2 366.9h0M417.2 369.2h0M417.2 371.5h0M417.2 373.9h0M417.2 376.2h0M417.9 357.3h0M417.9 359.6h0M417.9 361.8h0M417.9 364.1h0M417.9 366.4h0M417.9 368.7h0M417.9 371.0h0M417.9 373.3h0M417.9 375.6h0M418.6 356.8h0M418.6 359.1h0M418.6 361.4h0M418.6 363.6h0M418.6 365.9h0M418.6 368.2h0M418.6 370.5h0M418.6 372.8h0M418.6 375.0h0M419.3 356.8h0M419.3 359.3h0M419.3 361.9h0M419.3 364.4h0M419.3 367.0h0M419.3 369.5h0M419.3 372.1h0M419.3 374.6h0M420.0 376.1h0M420.0 356.8h0M420.0 359.3h0M420.0 361.8h0M420.0 364.4h0M420.0 366.9h0M420.0 369.4h0M420.0 371.9h0M420.0 374.4h0M420.7 355.4h0M420.7 357.0h0M420.7 359.4h0M420.7 361.9h0M420.7 364.4h0M420.7 366.9h0M420.7 369.3h0M420.7 371.8h0M420.7 374.3h0M421.4 357.1h0M421.4 359.6h0M421.4 362.0h0M421.4 364.4h0M421.4 366.8h0M421.4 369.2h0M421.4 371.7h0M421.4 374.1h0M422.1 357.3h0M422.1 359.7h0M422.1 362.1h0M422.1 364.4h0M422.1 366.8h0M422.1 369.2h0M422.1 371.5h0M422.1 373.9h0M422.8 357.5h0M422.8 359.8h0M422.8 362.1h0M422.8 364.4h0M422.8 366.8h0M422.8 369.1h0M422.8 371.4h0M422.8 373.7h0M423.5 356.8h0M423.5 357.7h0M423.5 360.0h0M423.5 362.3h0M423.5 364.5h0M423.5 366.8h0M423.5 369.0h0M423.5 371.3h0M423.5 373.6h0M424.2 374.1h0M424.2 359.0h0M424.2 361.4h0M424.2 363.8h0M424.2 366.2h0M424.2 368.6h0M424.2 371.0h0M424.2 373.4h0M424.9 360.3h0M424.9 362.9h0M424.9 365.5h0M424.9 368.1h0M424.9 370.6h0M424.9 373.2h0M425.6 361.6h0M425.6 363.9h0M425.6 366.2h0M425.6 368.5h0M425.6 370.8h0M425.6 373.1h0M426.3 362.9h0M426.3 365.4h0M426.3 367.9h0M426.3 370.5h0M426.3 373.0h0M427.0 363.5h0M427.0 373.5h0M427.0 364.0h0M427.0 366.2h0M427.0 368.4h0M427.0 370.7h0M427.0 372.9h0M427.7 364.5h0M427.7 366.6h0M427.7 368.6h0M427.7 370.7h0M427.7 372.8h0M428.4 364.7h0M428.4 366.7h0M428.4 368.7h0M428.4 370.7h0M428.4 372.6h0M429.1 364.9h0M429.1 367.4h0M429.1 370.0h0M429.1 372.5h0M429.8 363.6h0M429.8 373.7h0M429.8 364.7h0M429.8 367.3h0M429.8 369.9h0M429.8 372.4h0M430.5 364.5h0M430.5 366.4h0M430.5 368.4h0M430.5 370.3h0M430.5 372.3h0M431.2 364.0h0M431.2 366.1h0M431.2 368.1h0M431.2 370.1h0M431.2 372.2h0M431.9 363.6h0M431.9 365.7h0M431.9 367.8h0M431.9 369.9h0M431.9 372.0h0M432.6 362.4h0M432.6 363.1h0M432.6 365.2h0M432.6 367.3h0M432.6 369.5h0M432.6 371.6h0M433.3 372.8h0M433.3 362.6h0M433.3 364.8h0M433.3 366.9h0M433.3 369.0h0M433.3 371.1h0M434.0 362.2h0M434.0 364.3h0M434.0 366.4h0M434.0 368.6h0M434.0 370.7h0M434.7 362.0h0M434.7 364.1h0M434.7 366.1h0M434.7 368.2h0M434.7 370.2h0M435.4 361.8h0M435.4 363.8h0M435.4 365.8h0M435.4 367.8h0M435.4 369.8h0M436.1 361.2h0M436.1 361.7h0M436.1 364.2h0M436.1 366.8h0M436.1 369.4h0M436.8 361.5h0M436.8 364.0h0M436.8 366.5h0M436.8 369.0h0M437.5 370.2h0M437.5 361.3h0M437.5 363.8h0M437.5 366.3h0M437.5 368.8h0M438.2 361.1h0M438.2 363.6h0M438.2 366.1h0M438.2 368.6h0M438.9 360.9h0M438.9 363.4h0M438.9 365.9h0M438.9 368.5h0M439.6 360.5h0M439.6 363.1h0M439.6 365.7h0M439.6 368.3h0M440.3 358.2h0M440.3 359.7h0M440.3 361.8h0M440.3 363.9h0M440.3 366.1h0M440.3 368.2h0M441.0 370.1h0M441.0 358.7h0M441.0 361.1h0M441.0 363.5h0M441.0 365.9h0M441.0 368.3h0M441.7 358.3h0M441.7 360.9h0M441.7 363.4h0M441.7 366.0h0M441.7 368.5h0M442.4 358.9h0M442.4 361.4h0M442.4 363.9h0M442.4 366.3h0M442.4 368.8h0M443.1 357.9h0M443.1 359.5h0M443.1 361.9h0M443.1 364.3h0M443.1 366.7h0M443.1 369.1h0M443.8 360.0h0M443.8 362.4h0M443.8 364.7h0M443.8 367.0h0M443.8 369.3h0M444.5 370.1h0M444.5 360.4h0M444.5 362.7h0M444.5 365.0h0M444.5 367.3h0M444.5 369.6h0M445.2 360.5h0M445.2 362.8h0M445.2 365.1h0M445.2 367.4h0M445.2 369.7h0M445.9 359.1h0M445.9 360.6h0M445.9 362.8h0M445.9 364.9h0M445.9 367.1h0M445.9 369.2h0M446.6 360.7h0M446.6 362.7h0M446.6 364.7h0M446.6 366.8h0M446.6 368.8h0M447.3 360.8h0M447.3 363.3h0M447.3 365.8h0M447.3 368.3h0M448.0 369.3h0M448.0 360.9h0M448.0 363.2h0M448.0 365.6h0M448.0 367.9h0M448.7 361.0h0M448.7 363.1h0M448.7 365.3h0M448.7 367.5h0M449.4 361.1h0M449.4 363.1h0M449.4 365.1h0M449.4 367.1h0M450.1 360.3h0M450.1 361.7h0M450.1 363.4h0M450.1 365.2h0M450.1 367.0h0M450.8 362.2h0M450.8 364.6h0M450.8 367.1h0M451.5 368.1h0M451.5 362.7h0M451.5 364.9h0M451.5 367.2h0M452.2 363.2h0M452.2 365.4h0M452.2 367.7h0M452.9 363.7h0M452.9 366.0h0M452.9 368.4h0M453.6 362.8h0M453.6 364.0h0M453.6 366.6h0M453.6 369.1h0M454.3 364.3h0M454.3 366.1h0M454.3 368.0h0M454.3 369.8h0M455.0 371.0h0M455.0 364.2h0M455.0 366.3h0M455.0 368.4h0M455.0 370.5h0M455.7 364.1h0M455.7 366.5h0M455.7 368.8h0M455.7 371.2h0M456.4 363.7h0M456.4 366.1h0M456.4 368.4h0M456.4 370.8h0M457.1 363.0h0M457.1 365.4h0M457.1 367.9h0M457.1 370.4h0M457.8 360.5h0M457.8 370.3h0M457.8 362.1h0M457.8 364.0h0M457.8 366.0h0M457.8 368.0h0M457.8 370.0h0M458.5 361.2h0M458.5 363.3h0M458.5 365.4h0M458.5 367.5h0M458.5 369.6h0M459.2 360.2h0M459.2 362.5h0M459.2 364.7h0M459.2 366.9h0M459.2 369.1h0M459.9 359.3h0M459.9 361.7h0M459.9 364.0h0M459.9 366.4h0M459.9 368.7h0M460.6 357.0h0M460.6 358.4h0M460.6 360.9h0M460.6 363.3h0M460.6 365.8h0M460.6 368.2h0M461.3 357.9h0M461.3 360.3h0M461.3 362.8h0M461.3 365.2h0M461.3 367.7h0M462.0 368.7h0M462.0 357.5h0M462.0 359.9h0M462.0 362.3h0M462.0 364.7h0M462.0 367.2h0M462.7 357.2h0M462.7 359.5h0M462.7 361.9h0M462.7 364.3h0M462.7 366.6h0M463.4 356.8h0M463.4 359.1h0M463.4 361.5h0M463.4 363.8h0M463.4 366.1h0M464.1 356.5h0M464.1 358.7h0M464.1 361.0h0M464.1 363.3h0M464.1 365.6h0M464.8 355.1h0M464.8 356.1h0M464.8 358.3h0M464.8 360.6h0M464.8 362.8h0M464.8 365.1h0M465.5 366.4h0M465.5 355.8h0M465.5 358.0h0M465.5 360.2h0M465.5 362.4h0M465.5 364.7h0M466.2 355.4h0M466.2 357.7h0M466.2 360.0h0M466.2 362.2h0M466.2 364.5h0M466.9 355.9h0M466.9 358.0h0M466.9 360.2h0M466.9 362.4h0M466.9 364.5h0M467.6 356.4h0M467.6 358.5h0M467.6 360.5h0M467.6 362.6h0M467.6 364.7h0M468.3 356.9h0M468.3 358.9h0M468.3 361.0h0M468.3 363.0h0M468.3 365.1h0M469.0 356.5h0M469.0 367.0h0M469.0 357.4h0M469.0 359.5h0M469.0 361.5h0M469.0 363.6h0M469.0 365.6h0M469.7 358.0h0M469.7 360.0h0M469.7 362.1h0M469.7 364.1h0M469.7 366.1h0M470.4 358.8h0M470.4 360.8h0M470.4 362.7h0M470.4 364.7h0M470.4 366.6h0M471.1 359.6h0M471.1 362.1h0M471.1 364.6h0M471.1 367.2h0M471.8 359.9h0M471.8 360.4h0M471.8 362.8h0M471.8 365.3h0M471.8 367.7h0M472.5 368.8h0M472.5 361.2h0M472.5 363.6h0M472.5 365.9h0M472.5 368.2h0M473.2 362.0h0M473.2 364.3h0M473.2 366.5h0M473.2 368.7h0M473.9 362.6h0M473.9 364.9h0M473.9 367.2h0M473.9 369.5h0M474.6 362.8h0M474.6 365.4h0M474.6 368.0h0M474.6 370.6h0M475.3 363.0h0M475.3 365.2h0M475.3 367.4h0M475.3 369.6h0M475.3 371.7h0M476.0 362.1h0M476.0 362.9h0M476.0 365.4h0M476.0 367.9h0M476.0 370.4h0M476.0 372.9h0M476.7 374.8h0M476.7 362.6h0M476.7 364.9h0M476.7 367.2h0M476.7 369.5h0M476.7 371.7h0M476.7 374.0h0M477.4 362.3h0M477.4 364.9h0M477.4 367.4h0M477.4 370.0h0M477.4 372.6h0M477.4 375.1h0M478.1 361.9h0M478.1 364.2h0M478.1 366.4h0M478.1 368.7h0M478.1 371.0h0M478.1 373.2h0M478.1 375.5h0M478.8 361.6h0M478.8 363.9h0M478.8 366.1h0M478.8 368.4h0M478.8 370.7h0M478.8 372.9h0M478.8 375.2h0M479.5 361.2h0M479.5 363.5h0M479.5 365.8h0M479.5 368.1h0M479.5 370.4h0M479.5 372.6h0M479.5 374.9h0M480.2 359.6h0M480.2 360.9h0M480.2 363.2h0M480.2 365.5h0M480.2 367.8h0M480.2 370.1h0M480.2 372.3h0M480.2 374.6h0M480.9 374.7h0M480.9 360.7h0M480.9 362.9h0M480.9 365.1h0M480.9 367.3h0M480.9 369.6h0M480.9 371.8h0M480.9 374.0h0M481.6 360.4h0M481.6 362.8h0M481.6 365.2h0M481.6 367.7h0M481.6 370.1h0M481.6 372.5h0M482.3 360.1h0M482.3 362.3h0M482.3 364.5h0M482.3 366.7h0M482.3 368.8h0M482.3 371.0h0M483.0 359.5h0M483.0 359.9h0M483.0 362.3h0M483.0 364.7h0M483.0 367.1h0M483.0 369.5h0M483.7 369.3h0M483.7 359.6h0M483.7 361.7h0M483.7 363.8h0M483.7 365.9h0M483.7 368.0h0M484.4 359.4h0M484.4 361.8h0M484.4 364.3h0M484.4 366.8h0M485.1 359.1h0M485.1 361.5h0M485.1 363.8h0M485.1 366.2h0M485.8 358.9h0M485.8 361.2h0M485.8 363.6h0M485.8 365.9h0M486.5 357.1h0M486.5 358.7h0M486.5 361.1h0M486.5 363.4h0M486.5 365.8h0M487.2 358.5h0M487.2 360.9h0M487.2 363.4h0M487.2 365.8h0M487.9 367.8h0M487.9 358.3h0M487.9 360.2h0M487.9 362.2h0M487.9 364.2h0M487.9 366.2h0M488.6 358.0h0M488.6 360.2h0M488.6 362.3h0M488.6 364.5h0M488.6 366.6h0M489.3 357.8h0M489.3 360.2h0M489.3 362.7h0M489.3 365.1h0M489.3 367.5h0M490.0 356.7h0M490.0 357.6h0M490.0 359.8h0M490.0 361.9h0M490.0 364.1h0M490.0 366.3h0M490.0 368.4h0M490.7 357.6h0M490.7 360.0h0M490.7 362.3h0M490.7 364.7h0M490.7 367.0h0M490.7 369.4h0M491.4 357.9h0M491.4 360.3h0M491.4 362.8h0M491.4 365.3h0M491.4 367.8h0M491.4 370.3h0M492.1 372.6h0M492.1 358.1h0M492.1 360.3h0M492.1 362.5h0M492.1 364.7h0M492.1 366.8h0M492.1 369.0h0M492.1 371.2h0M492.8 358.3h0M492.8 360.5h0M492.8 362.7h0M492.8 365.0h0M492.8 367.2h0M492.8 369.4h0M492.8 371.6h0M493.5 358.5h0M493.5 360.7h0M493.5 363.0h0M493.5 365.2h0M493.5 367.5h0M493.5 369.7h0M493.5 372.0h0M494.2 358.0h0M494.2 358.7h0M494.2 361.0h0M494.2 363.2h0M494.2 365.5h0M494.2 367.8h0M494.2 370.0h0M494.2 372.3h0M494.9 358.9h0M494.9 361.2h0M494.9 363.5h0M494.9 365.8h0M494.9 368.1h0M494.9 370.4h0M494.9 372.7h0M495.6 359.3h0M495.6 361.6h0M495.6 363.9h0M495.6 366.1h0M495.6 368.4h0M495.6 370.7h0M495.6 373.0h0M496.3 373.7h0M496.3 359.8h0M496.3 362.1h0M496.3 364.3h0M496.3 366.6h0M496.3 368.8h0M496.3 371.1h0M496.3 373.4h0M497.0 360.3h0M497.0 362.5h0M497.0 364.8h0M497.0 367.0h0M497.0 369.2h0M497.0 371.5h0M497.0 373.7h0M497.7 359.7h0M497.7 360.8h0M497.7 363.0h0M497.7 365.2h0M497.7 367.4h0M497.7 369.6h0M497.7 371.8h0M497.7 374.0h0M498.4 361.4h0M498.4 363.5h0M498.4 365.7h0M498.4 367.9h0M498.4 370.0h0M498.4 372.2h0M498.4 374.4h0M499.1 361.9h0M499.1 364.4h0M499.1 367.0h0M499.1 369.6h0M499.1 372.2h0M499.1 374.7h0M499.8 375.6h0M499.8 362.4h0M499.8 364.9h0M499.8 367.5h0M499.8 370.0h0M499.8 372.6h0M499.8 375.1h0M500.5 362.8h0M500.5 365.3h0M500.5 367.8h0M500.5 370.4h0M500.5 372.9h0M500.5 375.4h0M501.2 362.9h0M501.2 365.3h0M501.2 367.6h0M501.2 369.9h0M501.2 372.3h0M501.2 374.6h0M501.9 362.1h0M501.9 362.9h0M501.9 365.1h0M501.9 367.2h0M501.9 369.3h0M501.9 371.4h0M501.9 373.6h0M502.6 362.8h0M502.6 365.2h0M502.6 367.6h0M502.6 370.1h0M502.6 372.5h0M503.3 372.2h0M503.3 362.5h0M503.3 364.7h0M503.3 366.9h0M503.3 369.1h0M503.3 371.3h0M504.0 362.1h0M504.0 364.7h0M504.0 367.3h0M504.0 369.9h0M504.7 360.1h0M504.7 361.8h0M504.7 364.0h0M504.7 366.2h0M504.7 368.5h0M505.4 361.4h0M505.4 363.3h0M505.4 365.2h0M505.4 367.1h0M506.1 361.1h0M506.1 362.8h0M506.1 364.6h0M506.1 366.4h0M506.8 360.7h0M506.8 363.3h0M506.8 365.9h0M507.5 367.5h0M507.5 360.4h0M507.5 362.2h0M507.5 364.0h0M507.5 365.8h0M508.2 360.0h0M508.2 361.9h0M508.2 363.8h0M508.2 365.7h0M508.9 358.3h0M508.9 359.4h0M508.9 361.6h0M508.9 363.7h0M508.9 365.9h0M509.6 358.8h0M509.6 361.3h0M509.6 363.7h0M509.6 366.1h0M510.3 358.3h0M510.3 360.3h0M510.3 362.3h0M510.3 364.3h0M510.3 366.3h0M511.0 357.7h0M511.0 359.9h0M511.0 362.1h0M511.0 364.3h0M511.0 366.5h0M511.7 367.4h0M511.7 357.2h0M511.7 359.5h0M511.7 361.9h0M511.7 364.3h0M511.7 366.7h0M512.4 355.9h0M512.4 356.6h0M512.4 359.2h0M512.4 361.8h0M512.4 364.3h0M512.4 366.9h0M513.1 356.0h0M513.1 358.3h0M513.1 360.5h0M513.1 362.7h0M513.1 364.9h0M513.1 367.1h0M513.8 356.1h0M513.8 358.3h0M513.8 360.6h0M513.8 362.8h0M513.8 365.1h0M513.8 367.3h0M514.5 356.3h0M514.5 358.6h0M514.5 360.8h0M514.5 363.0h0M514.5 365.3h0M514.5 367.5h0M515.2 355.7h0M515.2 368.1h0M515.2 356.6h0M515.2 358.8h0M515.2 361.0h0M515.2 363.3h0M515.2 365.5h0M515.2 367.7h0M515.9 356.9h0M515.9 359.5h0M515.9 362.0h0M515.9 364.6h0M515.9 367.2h0M516.6 357.1h0M516.6 359.4h0M516.6 361.7h0M516.6 364.0h0M516.6 366.3h0M517.3 357.3h0M517.3 359.3h0M517.3 361.3h0M517.3 363.3h0M517.3 365.3h0M518.0 365.5h0M518.0 357.4h0M518.0 359.7h0M518.0 362.1h0M518.0 364.4h0M518.7 356.3h0M518.7 357.3h0M518.7 359.4h0M518.7 361.6h0M518.7 363.7h0M519.4 357.1h0M519.4 359.2h0M519.4 361.3h0M519.4 363.5h0M520.1 357.0h0M520.1 359.1h0M520.1 361.1h0M520.1 363.2h0M520.8 356.9h0M520.8 359.0h0M520.8 361.2h0M520.8 363.4h0M521.5 355.8h0M521.5 365.0h0M521.5 356.7h0M521.5 359.0h0M521.5 361.2h0M521.5 363.5h0M522.2 356.6h0M522.2 359.0h0M522.2 361.5h0M522.2 364.0h0M522.9 356.4h0M522.9 358.5h0M522.9 360.6h0M522.9 362.7h0M522.9 364.8h0M523.6 356.3h0M523.6 358.7h0M523.6 361.1h0M523.6 363.4h0M523.6 365.8h0M524.3 354.9h0M524.3 356.4h0M524.3 359.0h0M524.3 361.6h0M524.3 364.2h0M524.3 366.8h0M525.0 356.7h0M525.0 358.8h0M525.0 360.9h0M525.0 363.0h0M525.0 365.1h0M525.0 367.2h0M525.7 366.9h0M525.7 356.9h0M525.7 359.3h0M525.7 361.6h0M525.7 363.9h0M525.7 366.2h0M526.4 357.2h0M526.4 359.2h0M526.4 361.2h0M526.4 363.3h0M526.4 365.3h0M527.1 357.5h0M527.1 359.8h0M527.1 362.1h0M527.1 364.4h0M527.8 356.8h0M527.8 357.7h0M527.8 359.6h0M527.8 361.5h0M527.8 363.4h0M528.5 357.9h0M528.5 360.3h0M528.5 362.6h0M529.2 358.0h0M529.2 360.1h0M529.2 362.2h0M529.9 363.1h0M529.9 357.9h0M529.9 359.9h0M529.9 362.0h0M530.6 357.7h0M530.6 359.8h0M530.6 362.0h0M531.3 357.5h0M531.3 359.8h0M531.3 362.1h0M532.0 356.7h0M532.0 357.2h0M532.0 359.7h0M532.0 362.2h0M532.7 357.0h0M532.7 358.8h0M532.7 360.6h0M532.7 362.4h0M533.4 363.4h0M533.4 356.8h0M533.4 358.7h0M533.4 360.6h0M533.4 362.5h0M534.1 356.6h0M534.1 358.6h0M534.1 360.6h0M534.1 362.7h0M534.8 356.4h0M534.8 358.5h0M534.8 360.7h0M534.8 362.8h0M535.5 356.2h0M535.5 358.4h0M535.5 360.6h0M535.5 362.7h0M536.2 355.0h0M536.2 356.0h0M536.2 357.9h0M536.2 359.9h0M536.2 361.8h0M536.9 361.6h0M536.9 355.6h0M536.9 357.4h0M536.9 359.1h0M536.9 360.9h0M537.6 355.2h0M537.6 357.6h0M537.6 359.9h0M538.3 354.7h0M538.3 356.9h0M538.3 359.0h0M539.0 354.2h0M539.0 356.4h0M539.0 358.6h0M539.7 352.7h0M539.7 353.8h0M539.7 356.0h0M539.7 358.3h0M540.4 359.4h0M540.4 353.3h0M540.4 355.8h0M540.4 358.3h0M541.1 352.8h0M541.1 354.7h0M541.1 356.5h0M541.1 358.3h0M541.8 352.4h0M541.8 354.5h0M541.8 356.6h0M541.8 358.8h0M542.5 352.0h0M542.5 354.4h0M542.5 356.8h0M542.5 359.3h0M543.2 352.7h0M543.2 355.3h0M543.2 357.9h0M543.2 360.5h0M543.9 352.8h0M543.9 362.3h0M543.9 353.4h0M543.9 355.5h0M543.9 357.6h0M543.9 359.6h0M543.9 361.7h0M544.6 354.1h0M544.6 356.3h0M544.6 358.5h0M544.6 360.8h0M544.6 363.0h0M545.3 354.8h0M545.3 357.2h0M545.3 359.5h0M545.3 361.9h0M545.3 364.2h0M546.0 355.5h0M546.0 358.0h0M546.0 360.5h0M546.0 363.0h0M546.0 365.5h0M546.7 356.2h0M546.7 358.3h0M546.7 360.4h0M546.7 362.5h0M546.7 364.6h0M546.7 366.8h0M547.4 355.7h0M547.4 356.8h0M547.4 359.0h0M547.4 361.1h0M547.4 363.2h0M547.4 365.3h0M547.4 367.4h0M548.1 368.5h0M548.1 357.3h0M548.1 359.6h0M548.1 362.0h0M548.1 364.4h0M548.1 366.7h0M548.8 357.6h0M548.8 359.7h0M548.8 361.9h0M548.8 364.0h0M548.8 366.2h0M549.5 358.0h0M549.5 359.9h0M549.5 361.9h0M549.5 363.8h0M549.5 365.8h0M550.2 358.3h0M550.2 360.7h0M550.2 363.0h0M550.2 365.4h0M550.9 358.7h0M550.9 360.8h0M550.9 362.9h0M550.9 365.1h0M551.6 358.5h0M551.6 365.7h0M551.6 359.0h0M551.6 360.9h0M551.6 362.8h0M551.6 364.7h0M552.3 359.8h0M552.3 362.0h0M552.3 364.2h0M553.0 361.2h0M553.0 363.3h0M553.7 362.6h0M553.7 362.6h0M554.4 363.1h0M554.4 363.1h0M327.6 379.0h0M331.6 383.1h0M335.3 383.1h0M340.3 381.2h0M342.8 378.7h0M346.6 376.2h0M351.6 380.0h0M355.3 381.9h0M360.3 380.6h0M365.3 376.9h0M370.3 376.2h0M376.6 369.4h0M381.6 372.5h0M386.6 372.5h0M391.6 368.1h0M396.6 370.6h0M401.6 369.4h0M407.8 369.4h0M412.8 367.5h0M414.1 361.9h0M415.9 355.0h0M420.3 355.0h0M425.3 356.2h0M429.1 363.1h0M432.8 360.6h0M437.8 359.4h0M440.9 355.0h0M445.3 358.7h0M450.3 359.4h0M454.7 362.5h0M459.1 356.9h0M466.6 353.1h0M471.6 356.9h0M475.3 361.2h0M479.1 359.4h0M484.1 357.5h0M490.3 355.6h0M496.6 357.5h0M501.6 361.2h0M506.6 358.7h0M512.8 353.7h0M517.8 355.6h0M524.0 354.4h0M529.0 356.2h0M535.3 354.4h0M542.8 349.4h0M549.0 355.6h0M554.0 358.1h0M329.1 391.0h0M332.8 395.6h0M337.8 390.0h0M342.8 390.0h0M347.8 393.8h0M351.6 391.2h0M355.3 397.5h0M360.3 393.8h0M364.1 390.0h0M367.8 386.2h0M371.6 385.6h0M376.6 383.8h0M380.9 386.9h0M385.3 384.4h0M390.3 380.6h0M397.8 382.5h0M403.4 383.1h0M409.1 379.4h0M416.6 379.4h0M420.3 376.2h0M425.3 375.0h0M432.8 373.8h0M437.8 370.6h0M440.3 370.0h0M445.3 371.9h0M450.3 368.8h0M455.3 373.8h0M461.6 370.0h0M466.6 366.2h0M471.6 370.0h0M476.6 378.1h0M482.8 375.6h0M486.6 367.5h0M490.3 372.5h0M496.6 375.6h0M501.6 378.1h0M505.3 372.5h0M507.8 367.5h0M516.5 370.0h0M520.3 365.0h0M524.7 371.2h0M530.3 363.8h0M536.5 365.0h0M540.3 360.0h0M546.5 371.2h0M550.3 367.5h0M554.0 365.6h0M114.7 88.3h0M147.8 89.3h0M166.6 111.4h0M230.7 74.5h0M231.6 86.4h0M240.8 113.3h0M301.6 389.7h0M305.1 391.6h0M301.6 395.1h0M286.6 106.3h0M318.1 380.7h0M396.6 390.7h0M420.7 306.6h0M420.7 307.8h0M414.7 334.7h0M420.7 348.7h0M421.6 410.6h0" stroke="#f00" stroke-width="5.6" stroke-linecap="round" fill="none"/><text x="62" y="447.5" font-size="13.9" text-anchor="start" textLength="48" lengthAdjust="spacingAndGlyphs">2000.0</text><text x="122" y="447.5" font-size="13.9" text-anchor="start" textLength="48" lengthAdjust="spacingAndGlyphs">2002.5</text><text x="182" y="447.5" font-size="13.9" text-anchor="start" textLength="48" lengthAdjust="spacingAndGlyphs">2005.0</text><text x="242" y="447.5" font-size="13.9" text-anchor="start" textLength="48" lengthAdjust="spacingAndGlyphs">2007.5</text><text x="302" y="447.5" font-size="13.9" text-anchor="start" textLength="48" lengthAdjust="spacingAndGlyphs">2010.0</text><text x="362" y="447.5" font-size="13.9" text-anchor="start" textLength="48" lengthAdjust="spacingAndGlyphs">2012.5</text><text x="422" y="447.5" font-size="13.9" text-anchor="start" textLength="48" lengthAdjust="spacingAndGlyphs">2015.0</text><text x="482" y="447.5" font-size="13.9" text-anchor="start" textLength="48" lengthAdjust="spacingAndGlyphs">2017.5</text><text x="542" y="447.5" font-size="13.9" text-anchor="start" textLength="48" lengthAdjust="spacingAndGlyphs">2020.0</text><text x="50" y="109.5" font-size="13.9" text-anchor="start" textLength="19" lengthAdjust="spacingAndGlyphs">0.0</text><text x="37.5" y="161.5" font-size="13.9" text-anchor="start" textLength="32" lengthAdjust="spacingAndGlyphs">−0.1</text><text x="37.5" y="212.5" font-size="13.9" text-anchor="start" textLength="32" lengthAdjust="spacingAndGlyphs">−0.2</text><text x="37.5" y="264.5" font-size="13.9" text-anchor="start" textLength="32" lengthAdjust="spacingAndGlyphs">−0.3</text><text x="37.5" y="316.5" font-size="13.9" text-anchor="start" textLength="32" lengthAdjust="spacingAndGlyphs">−0.4</text><text x="37.5" y="368.5" font-size="13.9" text-anchor="start" textLength="32" lengthAdjust="spacingAndGlyphs">−0.5</text><text x="37.5" y="420.5" font-size="13.9" text-anchor="start" textLength="32" lengthAdjust="spacingAndGlyphs">−0.6</text><text x="302" y="48.5" font-size="16.7" text-anchor="start" textLength="52" lengthAdjust="spacingAndGlyphs">TILC V</text><text x="27.5" y="244" font-size="13.9" text-anchor="middle" textLength="11.3" lengthAdjust="spacingAndGlyphs" transform="rotate(-90 27.5 244)">m</text><rect x="377.5" y="65.5" width="192" height="25" rx="2.8" fill="#fff" fill-opacity="0.8" stroke="#ccc" stroke-opacity="0.8" stroke-width="1.1"/><circle cx="397.4" cy="76.4" r="2.8" fill="#f00"/><text x="426" y="81" font-size="13.9" text-anchor="start" textLength="139" lengthAdjust="spacingAndGlyphs">repro2018a (IGS14)</text></svg></body></html>
